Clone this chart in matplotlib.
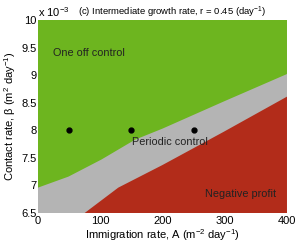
import matplotlib
matplotlib.use('Agg')
import matplotlib.pyplot as plt

plt.rcParams.update({
    'font.family': ['Liberation Sans', 'DejaVu Sans'],
    'font.size': 8,
    'mathtext.fontset': 'custom',
    'mathtext.rm': 'Liberation Sans',
    'mathtext.it': 'Liberation Sans',
})

C_GREEN = '#6db51f'
C_GREY = '#b4b4b4'
C_RED = '#b22c1a'

# boundary between one-off control and periodic control (A, beta x1e-3)
green_A = [0, 49, 102, 156, 200, 298, 400]
green_beta = [6.96, 7.16, 7.47, 7.83, 8.03, 8.52, 9.02]

# boundary between periodic control and negative profit
red_A = [75, 129, 200, 298, 400]
red_beta = [6.5, 6.96, 7.37, 7.97, 8.61]

# simulated parameter points
pts_A = [50, 150, 250]
pts_beta = [8, 8, 8]

x_ticks = [0, 100, 200, 300, 400]
y_ticks = [6.5, 7, 7.5, 8, 8.5, 9, 9.5, 10]

fig = plt.figure(figsize=(2.98, 2.43), dpi=100)
ax = fig.add_axes([0.1275, 0.1235, 0.8355, 0.7942])

xmin, xmax = 0, 400
ymin, ymax = 6.5, 10

# periodic region as background, others on top
ax.fill([xmin, xmax, xmax, xmin], [ymin, ymin, ymax, ymax], color=C_GREY, lw=0)
ax.fill(green_A + [xmax, xmin], green_beta + [ymax, ymax], color=C_GREEN, lw=0)
ax.fill(red_A + [xmax], red_beta + [ymin], color=C_RED, lw=0)

ax.plot(pts_A, pts_beta, 'o', color='black', markersize=3.5, zorder=4)

ax.text(24, 9.41, 'One off control', va='center', ha='left', fontsize=7.8, color='#222222')
ax.text(151, 7.78, 'Periodic control', va='center', ha='left', fontsize=7.8, color='#222222')
ax.text(268, 6.85, 'Negative profit', va='center', ha='left', fontsize=7.8, color='#222222')

ax.set_xlim(xmin, xmax)
ax.set_ylim(ymin, ymax)
ax.set_xticks(x_ticks)
ax.set_yticks(y_ticks)
ax.set_yticklabels(['6.5', '7', '7.5', '8', '8.5', '9', '9.5', '10'])
ax.tick_params(direction='in', length=0, width=0.5, pad=1, labelsize=8)
ax.tick_params(axis='x', pad=2.5)
for s in ax.spines.values():
    s.set_visible(False)

ax.set_xlabel('Immigration rate, A (m$^{-2}$ day$^{-1}$)', fontsize=8, labelpad=0.5)
ax.set_ylabel('Contact rate, β (m$^{2}$ day$^{-1}$)', fontsize=8, labelpad=2)

fig.text(38 / 298, 1 - 12 / 243, 'x 10$^{-3}$', ha='left', va='center', fontsize=8)
fig.text(78 / 298, 1 - 12 / 243, '(c) Intermediate growth rate, r = 0.45 (day$^{-1}$)',
         ha='left', va='center', fontsize=6.8)

fig.savefig('out.png', dpi=100)
